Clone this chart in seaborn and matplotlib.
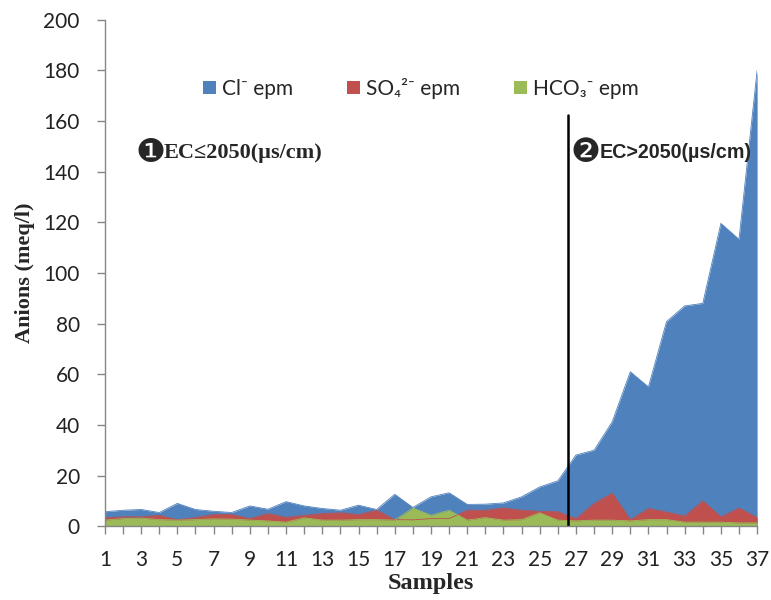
import matplotlib
matplotlib.use("Agg")
import matplotlib.pyplot as plt
import seaborn as sns
import numpy as np
import pandas as pd

samples = list(range(1, 38))
cl = [5.7, 6.3, 6.6, 5.4, 9.0, 6.6, 5.9, 5.4, 8.0, 6.7, 9.7, 8.0, 7.0, 6.3, 8.3, 6.6,
      12.6, 7.4, 11.6, 13.2, 8.6, 8.7, 9.2, 11.6, 15.5, 17.9, 28.1, 30.0, 41.2, 61.0,
      55.0, 80.8, 87.0, 88.0, 119.6, 113.3, 180.0]
so4 = [3.3, 3.7, 3.7, 4.3, 2.6, 3.4, 4.6, 4.6, 3.0, 5.0, 3.5, 4.3, 5.0, 5.3, 4.6, 6.3,
       2.6, 2.5, 3.0, 3.0, 6.3, 6.3, 7.2, 6.3, 5.9, 5.7, 3.0, 9.0, 13.0, 2.6,
       7.0, 5.6, 4.0, 10.0, 3.7, 7.2, 3.4]
hco3 = [2.4, 3.0, 3.2, 2.6, 2.4, 2.6, 2.9, 2.8, 2.4, 2.1, 1.6, 3.3, 2.4, 2.4, 2.6, 2.6,
        2.4, 7.2, 4.3, 6.3, 2.4, 3.4, 2.4, 2.6, 5.3, 2.4, 2.1, 2.4, 2.4, 2.1,
        2.6, 2.6, 1.6, 1.6, 1.6, 1.3, 1.3]
series_labels = ["Cl⁻ epm", "SO₄²⁻ epm", "HCO₃⁻ epm"]
colors = ["#4F81BD", "#C0504D", "#9BBB59"]

df = pd.DataFrame({"Sample": samples, "Cl": cl, "SO4": so4, "HCO3": hco3})

sns.set_theme(style="white")
plt.rcParams["font.family"] = ["Lato", "DejaVu Sans"]

fig = plt.figure(figsize=(7.71, 6.0), dpi=100)
ax = fig.add_axes([0.136, 0.123, 0.846, 0.844])

handles = []
for col, c, lab in zip(["Cl", "SO4", "HCO3"], colors, series_labels):
    sns.lineplot(data=df, x="Sample", y=col, ax=ax, color=c, linewidth=0.6, legend=False)
    h = ax.fill_between(df["Sample"], 0, df[col], color=c, linewidth=0, label=lab)
    handles.append(h)

ax.set_xlim(1, 37)
ax.set_ylim(0, 200)
ax.set_yticks(np.arange(0, 201, 20))
ax.set_xticks(samples)
ax.set_xticklabels([str(s) if s % 2 == 1 else "" for s in samples])
ax.tick_params(axis="both", labelsize=15, labelcolor="#222222", length=6, width=1,
               direction="out", left=True, bottom=True, color="#868686")
ax.tick_params(axis="x", pad=11)
ax.tick_params(axis="y", pad=12)
for s in ["top", "right"]:
    ax.spines[s].set_visible(False)
for s in ["left", "bottom"]:
    ax.spines[s].set_color("#868686")
    ax.spines[s].set_linewidth(1)

ax.set_xlabel("Samples", fontsize=17.5, fontweight="bold", family="Liberation Serif", labelpad=2)
ax.set_ylabel("Anions (meq/l)", fontsize=16, fontweight="bold", family="Liberation Serif", labelpad=6)

ax.plot([26.58, 26.58], [0, 162.5], color="black", linewidth=1.8)

ax.legend(handles=handles, labels=series_labels, loc="upper center", bbox_to_anchor=(0.485, 0.922),
          ncol=3, frameon=False, handlelength=0.6, handleheight=0.6,
          columnspacing=2.6, handletextpad=0.3,
          prop={"family": ["Lato", "DejaVu Sans"], "size": 15})

ax.text(2.7, 147.5, "❶", fontsize=24, family=["DejaVu Sans"], va="center", ha="left")
ax.text(4.25, 147.5, "EC≤2050(µs/cm)", fontsize=16, fontweight="bold",
        family=["Liberation Serif", "DejaVu Sans"], va="center", ha="left")
ax.text(26.7, 147.5, "❷", fontsize=24, family=["DejaVu Sans"], va="center", ha="left")
ax.text(28.3, 147.5, "EC>2050(µs/cm)", fontsize=14.2, fontweight="bold",
        family=["Liberation Sans", "DejaVu Sans"], va="center", ha="left")

fig.savefig("out.png", dpi=100)
